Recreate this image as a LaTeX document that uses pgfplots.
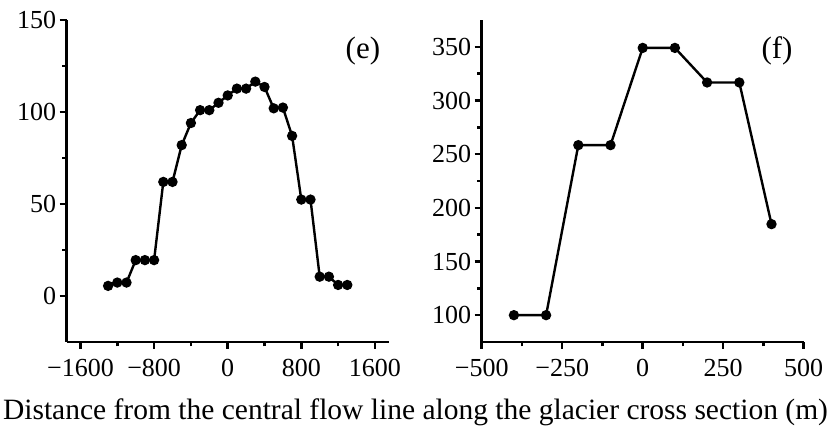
\documentclass[border=0pt]{standalone}
\usepackage{fontspec}
\setmainfont{Liberation Serif}
\usepackage{pgfplots}
\pgfplotsset{compat=1.18}
\pgfplotstableread{
x y
-1300 5.5
-1200 7.3
-1100 7.3
-1000 19.5
-900 19.5
-800 19.5
-700 62
-600 62
-500 82
-400 94
-300 101
-200 101
-100 105
0 109
100 112.7
200 112.7
300 116.5
400 113.6
500 102
600 102.4
700 87
800 52.4
900 52.4
1000 10.5
1100 10.5
1200 6
1300 6
}\tablee
\pgfplotstableread{
x y
-400 100
-300 100
-200 258.4
-100 258.4
0 349
100 349
200 316.8
300 316.8
400 184.8
}\tablef
\pgfplotsset{
  panel/.style={
    scale only axis, width=322pt, height=322pt, anchor=south west,
    axis x line*=bottom, axis y line*=left,
    axis line style={line width=2.8pt,-},
    every tick/.style={line width=2.5pt,black},
    major tick length=7pt, minor tick length=4.5pt,
    tick align=outside,
    minor x tick num=1, minor y tick num=1,
    tick label style={font=\fontsize{26}{29}\selectfont},
    xticklabel style={yshift=-7pt},
    /pgf/number format/assume math mode=true,
    clip=false,
  },
  dat/.style={black, line width=2.4pt, mark=*, mark size=3.9pt, mark options={solid}},
}
\begin{document}
\begin{tikzpicture}
\useasboundingbox (0pt,0pt) rectangle (829pt,427pt);
\begin{axis}[panel, at={(66.7pt,85pt)},
  xmin=-1750, xmax=1750, ymin=-25, ymax=150,
  xtick={-1600,-800,0,800,1600},
  xticklabels={−1600,−800,0,800,1600},
  ytick={0,50,100,150}]
\addplot[dat] table[x=x,y=y] {\tablee};
\node[font=\fontsize{31}{34}\selectfont] at (rel axis cs:0.92,0.905) {(e)};
\end{axis}
\begin{axis}[panel, at={(481.7pt,85pt)},
  xmin=-500, xmax=500, ymin=75, ymax=375,
  xtick={-500,-250,0,250,500},
  xticklabels={−500,−250,0,250,500},
  ytick={100,150,200,250,300,350}]
\addplot[dat] table[x=x,y=y] {\tablef};
\node[font=\fontsize{31}{34}\selectfont] at (rel axis cs:0.917,0.905) {(f)};
\end{axis}
\node[anchor=base, font=\fontsize{29.5}{33}\selectfont] at (415.5pt,7pt) {Distance from the central flow line along the glacier cross section (m)};
\end{tikzpicture}
\end{document}
